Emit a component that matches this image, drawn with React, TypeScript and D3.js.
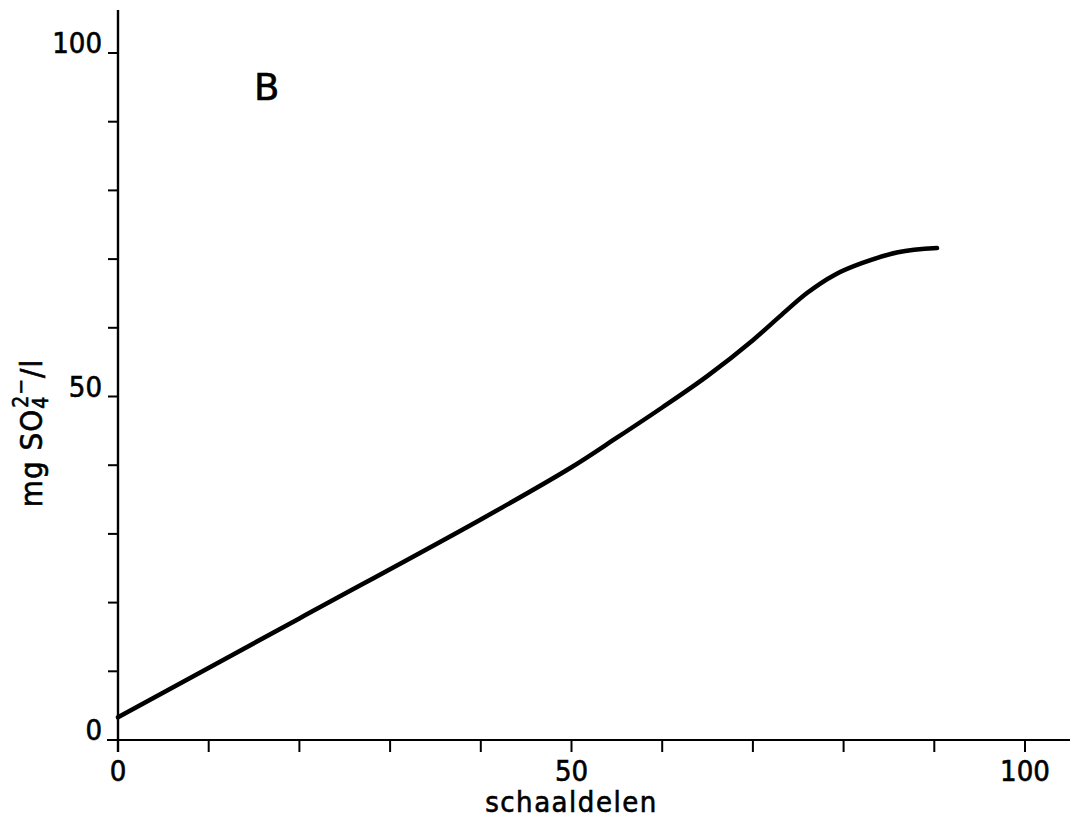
import React from "react";
import * as d3 from "d3";

const xValues = [0, 20, 40, 50, 55, 60, 65, 70, 73, 76, 79, 82, 86, 90.3];
const yValues = [3.3, 17.7, 32.1, 39.7, 44.0, 48.4, 53.0, 58.2, 61.7, 65.1, 67.7, 69.4, 71.0, 71.6];
const xTicks = [0, 10, 20, 30, 40, 50, 60, 70, 80, 90, 100];
const yTicks = [0, 10, 20, 30, 40, 50, 60, 70, 80, 90, 100];
const xTickLabels = [0, 50, 100];
const yTickLabels = [0, 50, 100];

const FONT = "'DejaVu Sans Condensed', 'DejaVu Sans', sans-serif";

export default function App() {
  const W = 1075, H = 827;
  const x = d3.scaleLinear().domain([0, 100]).range([118, 1025]);
  const y = d3.scaleLinear().domain([0, 100]).range([740, 53]);
  const pts: [number, number][] = xValues.map((v, i) => [v, yValues[i]]);
  const line = d3
    .line<[number, number]>()
    .x((d) => x(d[0]))
    .y((d) => y(d[1]))
    .curve(d3.curveCatmullRom.alpha(0.5));

  const textStyle = { stroke: "#000", strokeWidth: 0.6 };

  return (
    <svg
      width={W}
      height={H}
      style={{ position: "absolute", left: 0, top: 0, background: "#fff" }}
    >
      <rect x={0} y={0} width={W} height={H} fill="#fff" />
      <line x1={x(0)} x2={x(0)} y1={y(0) + 12} y2={10} stroke="#000" strokeWidth={2.4} />
      <line x1={x(0) - 11} x2={1070} y1={y(0)} y2={y(0)} stroke="#000" strokeWidth={2.2} />
      {yTicks.map((t) => (
        <line key={"yt" + t} x1={x(0) - 10} x2={x(0)} y1={y(t)} y2={y(t)} stroke="#000" strokeWidth={2} />
      ))}
      {xTicks.map((t) => (
        <line key={"xt" + t} x1={x(t)} x2={x(t)} y1={y(0)} y2={y(0) + 12} stroke="#000" strokeWidth={2} />
      ))}
      {yTickLabels.map((t) => (
        <text
          key={"yl" + t}
          x={x(0) - 16}
          y={y(t)}
          textAnchor="end"
          fontFamily={FONT}
          fontSize={29}
          fill="#000"
          style={textStyle}
        >
          {t}
        </text>
      ))}
      {xTickLabels.map((t) => (
        <text
          key={"xl" + t}
          x={x(t)}
          y={781}
          textAnchor="middle"
          fontFamily={FONT}
          fontSize={29}
          fill="#000"
          style={textStyle}
        >
          {t}
        </text>
      ))}
      <text
        x={x(50)}
        y={812}
        textAnchor="middle"
        fontFamily={FONT}
        fontSize={29}
        fill="#000"
        letterSpacing={1.5}
        style={textStyle}
      >
        schaaldelen
      </text>
      <text
        transform={`translate(42, 433) rotate(-90)`}
        textAnchor="middle"
        fontFamily={FONT}
        fontSize={31}
        fill="#000"
        letterSpacing={1}
        style={textStyle}
      >
        mg SO
        <tspan fontSize={21} dy={6}>4</tspan>
        <tspan fontSize={21} dx={-12} dy={-20}>2−</tspan>
        <tspan dy={14}>/l</tspan>
      </text>
      <text x={254} y={100} fontFamily="'DejaVu Sans', sans-serif" fontSize={37} fill="#000" style={textStyle}>
        B
      </text>
      <path
        d={line(pts) || ""}
        fill="none"
        stroke="#000"
        strokeWidth={4.5}
        strokeLinecap="round"
        strokeLinejoin="round"
      />
    </svg>
  );
}
